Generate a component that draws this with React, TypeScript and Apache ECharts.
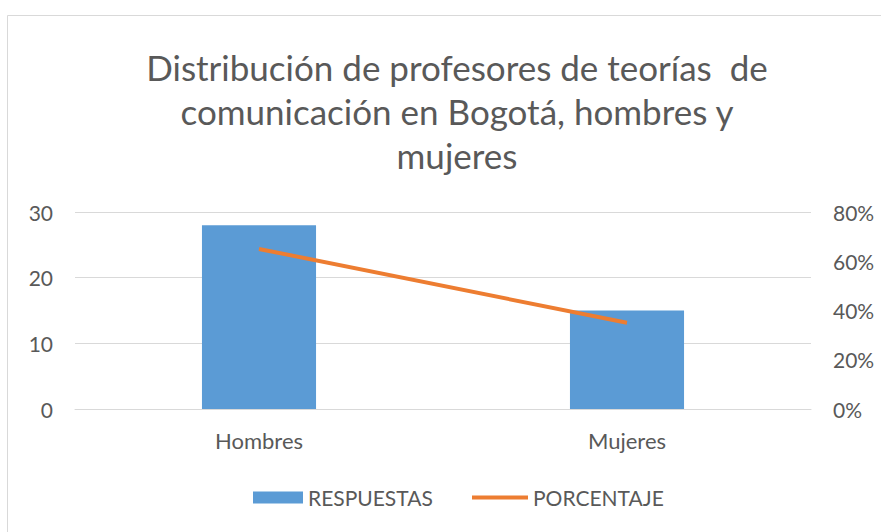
import React, { useEffect, useRef } from "react";
import * as echarts from "echarts";

const categories = ["Hombres", "Mujeres"];
const respuestas = [28, 15];
const porcentaje = [0.65, 0.35];
const titleText = "Distribución de profesores de teorías  de\ncomunicación en Bogotá, hombres y\nmujeres";

export default function App() {
  const ref = useRef<HTMLDivElement>(null);
  useEffect(() => {
    const chart = echarts.init(ref.current!, null, { renderer: "svg" });
    const font = "Lato, 'Open Sans', sans-serif";
    const gray = "#595959";
    chart.setOption({
      animation: false,
      backgroundColor: "#ffffff",
      textStyle: { fontFamily: font },
      graphic: [
        {
          type: "rect",
          shape: { x: 7.5, y: 15.5, width: 900, height: 540 },
          style: { fill: "none", stroke: "#d9d9d9", lineWidth: 1 },
          silent: true,
        },
      ],
      title: {
        text: titleText,
        left: 452,
        textAlign: "center",
        top: 40,
        textStyle: { fontFamily: font, fontSize: 35, fontWeight: "normal", color: gray, lineHeight: 44 },
      },
      legend: [
        {
          left: 248,
          top: 482,
          itemWidth: 50,
          itemHeight: 12,
          textStyle: { fontFamily: font, fontSize: 21, color: gray },
          data: [{ name: "RESPUESTAS", icon: "rect" }],
        },
        {
          left: 467,
          top: 482,
          itemWidth: 56,
          itemHeight: 4,
          textStyle: { fontFamily: font, fontSize: 21, color: gray },
          data: [{ name: "PORCENTAJE", icon: "rect" }],
        },
      ],
      grid: { left: 75, right: 70, top: 212, bottom: 123 },
      xAxis: {
        type: "category",
        data: categories,
        axisLine: { lineStyle: { color: "#d9d9d9" } },
        axisTick: { show: false },
        axisLabel: { color: gray, fontSize: 22, margin: 20 },
      },
      yAxis: [
        {
          type: "value",
          min: 0,
          max: 30,
          interval: 10,
          axisLine: { show: false },
          axisTick: { show: false },
          axisLabel: { color: gray, fontSize: 21, margin: 22 },
          splitLine: { lineStyle: { color: "#d9d9d9" } },
        },
        {
          type: "value",
          min: 0,
          max: 0.8,
          interval: 0.2,
          axisLine: { show: false },
          axisTick: { show: false },
          splitLine: { show: false },
          axisLabel: {
            color: gray,
            fontSize: 21,
            margin: 22,
            formatter: (v: number) => Math.round(v * 100) + "%",
          },
        },
      ],
      series: [
        {
          name: "RESPUESTAS",
          type: "bar",
          data: respuestas,
          barWidth: "31%",
          itemStyle: { color: "#5B9BD5" },
          yAxisIndex: 0,
        },
        {
          name: "PORCENTAJE",
          type: "line",
          data: porcentaje,
          yAxisIndex: 1,
          symbol: "none",
          lineStyle: { color: "#ED7D31", width: 4 },
          itemStyle: { color: "#ED7D31" },
        },
      ],
    });
    return () => chart.dispose();
  }, []);
  return <div ref={ref} style={{ width: 881, height: 532, position: "absolute", left: 0, top: 0 }} />;
}
